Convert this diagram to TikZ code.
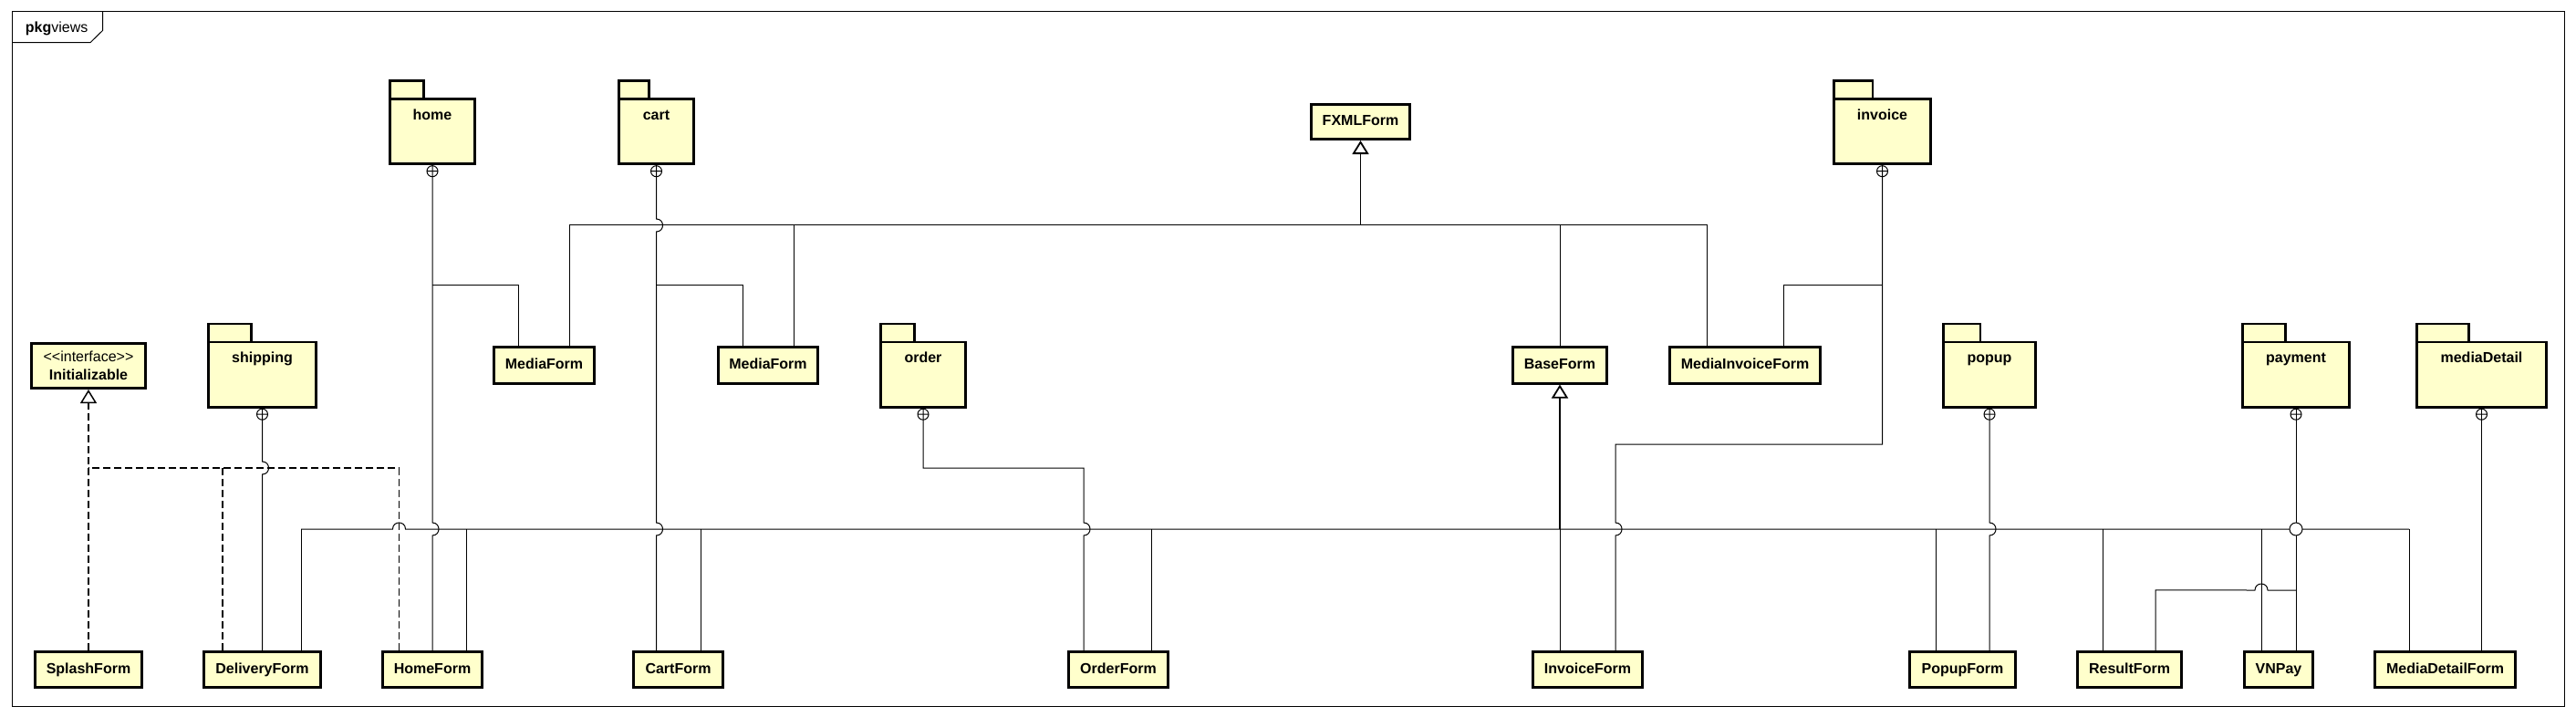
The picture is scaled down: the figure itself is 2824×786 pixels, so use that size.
\documentclass[tikz,border=0pt]{standalone}
\usepackage{fontspec}
\setmainfont{Liberation Sans}
\usepackage{xcolor}
\usetikzlibrary{arrows.meta, calc}
\definecolor{umlyellow}{RGB}{255,255,204}
\newcommand\diagfont{\fontsize{16}{20}\selectfont}
\newcommand\vjump[2]{-- (#1,#2-7) .. controls (#1+9.33,#2-7) and (#1+9.33,#2+7) .. (#1,#2+7)}
\newcommand\hjump[2]{-- (#1-7,#2) .. controls (#1-7,#2-9.33) and (#1+7,#2-9.33) .. (#1+7,#2)}

\begin{document}
\begin{tikzpicture}[x=1pt, y=-1pt,
    every node/.style={font=\diagfont},
    clsbox/.style={draw, line width=2.6pt, fill=umlyellow, inner sep=0pt, minimum height=39.5pt},
    cls/.style={clsbox, font=\diagfont\bfseries, text height=12pt, text depth=4pt},
    pkgbody/.style={draw, line width=2.6pt, fill=umlyellow, inner sep=0pt, outer sep=0pt,
        font=\diagfont\bfseries, text height=23pt, text depth=48.4pt},
    conn/.style={line width=1pt},
    genstem/.style={line width=1.8pt, -{Triangle[open, length=15pt, width=18pt]}},
    realize/.style={line width=1.5pt, dash pattern=on 8pt off 4pt}]
    \useasboundingbox (0,0) rectangle (2824,786);
    \draw[line width=1pt] (13,13) rectangle (2811,774);
    \draw[line width=1pt] (13,46.7) -- (99,46.7) -- (112.5,33.5) -- (112.5,13);
    \node[anchor=west, inner sep=0pt] (framelabel) at (27.7,31) {\textbf{pkg}views};

    \node[pkgbody, minimum width=93.4pt] (home) at (474,144) {home};
    \node[pkgbody, minimum width=82.4pt] (cart) at (719.5,144) {cart};
    \node[pkgbody, minimum width=106.4pt] (invoice) at (2063.5,144) {invoice};
    \node[pkgbody, minimum width=118.4pt] (shipping) at (287.5,410.5) {shipping};
    \node[pkgbody, minimum width=93.4pt] (order) at (1012,410.5) {order};
    \node[pkgbody, minimum width=101.4pt] (popup) at (2181,410.5) {popup};
    \node[pkgbody, minimum width=117.4pt] (payment) at (2517,410.5) {payment};
    \node[pkgbody, minimum width=142.4pt] (mediadetail) at (2720.5,410.5) {mediaDetail};
    \foreach \p in {home, cart, invoice, shipping, order, popup, payment, mediadetail} {
        \draw[line width=2.6pt, fill=umlyellow] (\p.north west) rectangle ($(\p.north west)!.4!(\p.north east)+(0,-20)$);
        \draw[conn] ([yshift=-8pt]\p.south) circle[radius=6pt] ++(-6,0) -- ++(12,0);
    }

    \node[cls, minimum width=108.5pt, minimum height=38.5pt] (fxmlform) at (1491.5,133.5) {FXMLForm};
    \node[clsbox, minimum width=125.5pt, minimum height=49.5pt, align=center, font=\diagfont\bfseries]
        (initializable) at (97,401) {{\mdseries <{}<interface>{}>}\\Initializable};
    \node[cls, minimum width=110.5pt] (mediaform1) at (596.5,400.5) {MediaForm};
    \node[cls, minimum width=109.5pt] (mediaform2) at (842,400.5) {MediaForm};
    \node[cls, minimum width=103.5pt] (baseform) at (1710,400.5) {BaseForm};
    \node[cls, minimum width=165.5pt] (mediainvoiceform) at (1913,400.5) {MediaInvoiceForm};
    \node[cls, minimum width=117.5pt] (splashform) at (97,734) {SplashForm};
    \node[cls, minimum width=127.5pt] (deliveryform) at (287.5,734) {DeliveryForm};
    \node[cls, minimum width=109.5pt] (homeform) at (474,734) {HomeForm};
    \node[cls, minimum width=98.5pt] (cartform) at (743.5,734) {CartForm};
    \node[cls, minimum width=109.5pt] (orderform) at (1226,734) {OrderForm};
    \node[cls, minimum width=120.5pt] (invoiceform) at (1740.5,734) {InvoiceForm};
    \node[cls, minimum width=116.5pt] (popupform) at (2151.5,734) {PopupForm};
    \node[cls, minimum width=114.5pt] (resultform) at (2334.5,734) {ResultForm};
    \node[cls, minimum width=75.5pt] (vnpay) at (2498,734) {VNPay};
    \node[cls, minimum width=154.5pt] (mediadetailform) at (2680.5,734) {MediaDetailForm};

    \coordinate (fxbus) at (1491.5,247);
    \coordinate (basebus) at (1710,580);
    \coordinate (busleft) at (330,580);
    \coordinate (busright) at (2641,580);
    \coordinate (realbus) at (97,513);
    \coordinate (hometee) at (474,313);
    \coordinate (carttee) at (719.5,313);
    \coordinate (invoicetee) at (2063.5,313);
    \coordinate (paymenttee) at (2517,647);

    \draw[genstem] (fxbus) -- (fxmlform.south);
    \foreach \n/\dx in {mediaform1/27.5, mediaform2/28, baseform/0, mediainvoiceform/-42}
        \draw[conn] ([xshift=\dx]\n.north) |- (fxbus);

    \draw[genstem] (basebus) -- (baseform.south);
    \draw[conn] (busleft) \hjump{437.5}{580} -- (2510,580) (2524,580) -- (busright);
    \foreach \n/\dx in {deliveryform/42.5, homeform/37, cartform/24.5, orderform/36, invoiceform/-30.5,
        popupform/-29.5, resultform/-29.5, vnpay/-19, mediadetailform/-39.5}
        \draw[conn] ([xshift=\dx]\n.north) -- ++(0,-133);

    \draw[realize, -{Triangle[open, length=15pt, width=18pt]}] (splashform.north) -- (initializable.south);
    \draw[realize] ([xshift=-36.5]homeform.north) |- (realbus);
    \draw[realize] ([xshift=-43.5]deliveryform.north) -- ++(0,-200);

    \draw[conn] (home.south) \vjump{474}{580} -- (homeform.north);
    \draw[conn] ([xshift=-28.5]mediaform1.north) |- (hometee);
    \draw[conn] (cart.south) \vjump{719.5}{247} \vjump{719.5}{580} -- ([xshift=-24]cartform.north);
    \draw[conn] ([xshift=-28]mediaform2.north) |- (carttee);
    \draw[conn] (shipping.south) \vjump{287.5}{513} -- (deliveryform.north);
    \draw[conn] (order.south) |- (1188,513) \vjump{1188}{580} -- ([xshift=-38]orderform.north);
    \draw[conn] (invoice.south) |- (1771,487) \vjump{1771}{580} -- ([xshift=30.5]invoiceform.north);
    \draw[conn] ([xshift=42]mediainvoiceform.north) |- (invoicetee);
    \draw[conn] (popup.south) \vjump{2181}{580} -- ([xshift=29.5]popupform.north);
    \draw[conn] (payment.south) -- (2517,573) (2517,587) -- ([xshift=19]vnpay.north);
    \draw[conn] (2517,580) circle[radius=7pt];
    \draw[conn] ([xshift=28.5]resultform.north) -- ++(0,-66) \hjump{2479}{647} -- (paymenttee);
    \draw[conn] (mediadetail.south) -- ([xshift=40]mediadetailform.north);
\end{tikzpicture}
\end{document}
